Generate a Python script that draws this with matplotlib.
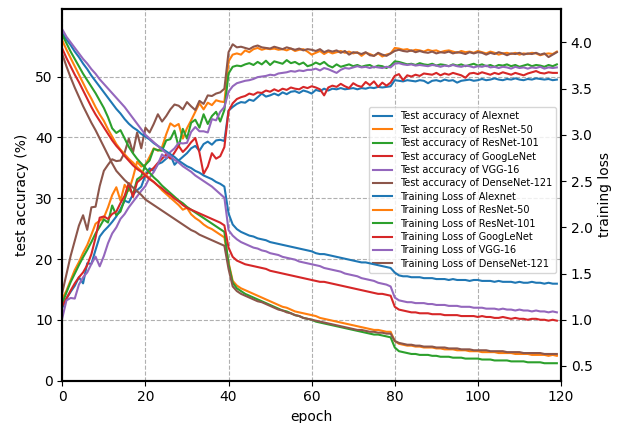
import matplotlib
matplotlib.use("Agg")
import matplotlib.pyplot as plt
import numpy as np

epochs = np.arange(120)
models = ["Alexnet", "ResNet-50", "ResNet-101", "GoogLeNet", "VGG-16", "DenseNet-121"]

# test accuracy (%) per epoch
acc_alexnet = [
    12.0, 13.5, 14.6, 15.6, 17.0, 16.0, 19.3, 19.2, 21.5, 23.7, 24.6, 25.3, 26.1, 27.0, 28.2, 29.6, 29.3, 30.6, 31.3, 31.9,
    33.8, 34.9, 34.5, 35.6, 35.9, 36.5, 37.1, 35.5, 36.2, 36.8, 37.4, 38.2, 38.6, 37.8, 38.9, 39.3, 38.8, 39.5, 39.6, 39.4,
    44.4, 45.0, 45.5, 45.8, 45.7, 46.2, 46.0, 46.6, 47.2, 46.7, 46.9, 47.2, 46.9, 47.4, 47.1, 47.5, 47.6, 47.3, 47.7, 47.5,
    47.2, 47.8, 47.6, 48.0, 47.7, 48.0, 47.9, 48.1, 47.9, 48.0, 48.1, 47.9, 48.1, 48.0, 48.2, 48.1, 48.3, 48.2, 48.3, 48.4,
    49.4, 49.3, 49.2, 49.4, 49.3, 49.2, 49.4, 49.3, 48.9, 49.3, 49.4, 49.2, 49.5, 49.3, 49.4, 49.0, 49.3, 49.4, 49.5, 49.3,
    49.4, 49.6, 49.4, 49.5, 49.7, 49.5, 49.4, 49.6, 49.5, 49.7, 49.5, 49.4, 49.6, 49.5, 49.7, 49.6, 49.5, 49.6, 49.4, 49.5]
acc_resnet50 = [
    13.5, 14.8, 16.5, 18.2, 19.5, 21.0, 22.3, 24.0, 25.8, 26.3, 26.8, 28.5, 30.5, 31.8, 29.6, 32.2, 31.2, 33.4, 36.0, 35.2,
    35.5, 36.8, 38.2, 37.8, 38.4, 40.5, 42.3, 41.8, 42.2, 39.8, 41.5, 42.8, 44.2, 45.6, 44.6, 45.7, 45.3, 46.1, 45.9, 45.8,
    52.5, 53.6, 53.8, 53.6, 54.3, 54.0, 54.5, 54.7, 54.4, 54.6, 54.5, 54.6, 54.4, 54.5, 54.3, 54.6, 54.2, 54.4, 54.5, 54.1,
    53.6, 53.9, 54.2, 53.7, 54.1, 53.8, 54.0, 54.2, 53.9, 54.1, 53.8, 54.0, 53.4, 53.9, 53.7, 53.4, 53.8, 53.3, 53.6, 53.8,
    54.7, 54.6, 54.4, 54.5, 54.2, 54.4, 54.3, 54.1, 54.4, 54.2, 54.3, 54.0, 54.2, 54.3, 54.1, 53.9, 54.2, 54.0, 54.1, 53.9,
    54.2, 54.0, 53.8, 54.1, 53.9, 53.6, 53.8, 53.9, 53.7, 53.9, 53.6, 53.8, 53.7, 53.9, 53.8, 53.5, 53.7, 53.8, 53.7, 54.1]
acc_resnet101 = [
    12.7, 14.5, 16.2, 17.6, 19.0, 20.3, 21.5, 22.8, 24.2, 25.3, 26.5, 26.0, 28.8, 27.2, 27.8, 29.8, 31.8, 30.6, 33.1, 33.6,
    35.5, 36.2, 38.1, 37.9, 37.8, 39.5, 39.7, 41.1, 38.4, 41.4, 39.8, 42.4, 42.9, 41.6, 43.8, 42.2, 43.5, 44.2, 42.6, 44.5,
    50.5, 51.6, 51.8, 51.7, 52.0, 52.2, 51.9, 52.4, 52.0, 52.6, 51.9, 52.5, 52.3, 52.1, 52.7, 52.2, 52.4, 52.0, 52.3, 51.7,
    51.9, 52.3, 52.0, 52.4, 51.8, 51.5, 52.0, 51.6, 51.8, 52.0, 51.7, 51.9, 51.6, 51.8, 51.9, 51.5, 51.8, 51.7, 51.4, 51.8,
    52.5, 52.4, 52.2, 52.0, 52.1, 51.9, 52.2, 52.0, 51.9, 52.1, 51.8, 52.0, 51.9, 51.7, 52.0, 51.8, 52.0, 51.7, 51.9, 52.1,
    51.8, 52.0, 51.7, 51.9, 51.6, 51.9, 51.8, 52.0, 51.7, 51.9, 51.6, 51.8, 52.0, 51.7, 51.9, 51.8, 51.6, 51.9, 51.7, 52.0]
acc_googlenet = [
    12.3, 13.5, 14.8, 16.0, 17.0, 17.8, 19.0, 20.8, 23.5, 26.8, 27.0, 26.6, 27.4, 27.8, 29.2, 30.4, 32.5, 30.2, 32.6, 33.2,
    33.8, 34.4, 35.0, 35.8, 36.5, 37.2, 36.5, 37.5, 38.6, 37.6, 38.3, 39.2, 39.9, 37.5, 34.0, 35.2, 37.4, 36.5, 36.9, 38.4,
    44.3, 45.6, 46.3, 46.6, 46.8, 47.2, 47.0, 47.4, 47.3, 47.7, 47.5, 47.9, 47.6, 48.0, 47.8, 48.2, 48.0, 47.9, 48.3, 48.1,
    48.4, 48.2, 47.9, 46.9, 48.2, 48.5, 48.3, 48.8, 48.4, 48.1, 48.9, 48.5, 48.3, 49.1, 48.6, 49.2, 48.3, 49.0, 48.5, 49.0,
    50.1, 50.4, 49.4, 50.2, 50.0, 50.3, 50.1, 50.5, 50.4, 50.3, 50.6, 50.2, 50.5, 50.3, 50.6, 50.4, 50.2, 49.8, 50.5, 50.6,
    50.4, 50.7, 50.5, 50.3, 50.6, 50.4, 50.7, 50.5, 50.3, 50.6, 50.4, 50.2, 50.5, 50.7, 50.9, 50.6, 50.5, 50.7, 50.6, 50.6]
acc_vgg16 = [
    10.3, 13.2, 13.6, 13.5, 15.8, 17.0, 17.8, 19.2, 20.4, 18.8, 20.5, 22.6, 24.2, 25.2, 26.6, 27.4, 28.5, 29.4, 30.3, 31.2,
    32.0, 33.4, 34.3, 35.6, 37.2, 36.6, 37.6, 38.2, 39.1, 39.0, 39.1, 40.9, 41.7, 41.0, 41.0, 40.8, 43.0, 42.8, 44.2, 45.0,
    47.5, 48.4, 48.9, 49.1, 49.3, 49.4, 49.6, 49.9, 50.0, 50.1, 50.3, 50.2, 50.5, 50.6, 50.7, 50.9, 50.8, 51.0, 50.9, 51.1,
    51.1, 51.3, 51.0, 51.4, 51.2, 50.9, 50.6, 51.1, 51.4, 51.3, 51.5, 51.7, 51.5, 51.6, 51.4, 51.6, 51.5, 51.4, 51.6, 51.5,
    52.1, 52.2, 52.0, 51.9, 52.0, 51.8, 51.9, 51.8, 51.7, 51.9, 51.8, 51.6, 51.8, 51.7, 51.9, 51.7, 51.6, 51.8, 51.7, 51.5,
    51.7, 51.6, 51.8, 51.5, 51.6, 51.4, 51.6, 51.5, 51.3, 51.6, 51.4, 51.5, 51.3, 51.5, 51.4, 51.6, 51.3, 51.5, 51.4, 51.5]
acc_densenet121 = [
    14.5, 17.5, 20.5, 23.0, 25.5, 27.2, 24.8, 28.5, 28.6, 32.0, 34.5, 35.5, 36.4, 36.1, 36.2, 37.5, 39.8, 37.5, 40.8, 38.2,
    41.6, 40.8, 42.2, 43.8, 42.6, 43.5, 44.6, 45.4, 45.2, 44.6, 45.8, 45.1, 44.5, 46.0, 45.5, 46.9, 46.8, 47.2, 47.4, 48.0,
    54.0, 55.3, 54.8, 54.9, 54.7, 54.5, 54.9, 55.1, 54.8, 54.7, 54.6, 54.9, 54.7, 54.5, 54.8, 54.6, 54.4, 54.6, 54.3, 54.5,
    54.4, 54.2, 54.5, 54.0, 54.3, 54.1, 54.3, 53.9, 54.2, 53.6, 54.0, 53.9, 53.7, 54.0, 53.5, 53.4, 53.9, 53.6, 53.4, 53.8,
    54.2, 54.4, 54.2, 54.1, 54.3, 54.0, 54.2, 54.0, 53.9, 54.1, 53.8, 54.0, 53.9, 54.1, 53.8, 54.0, 53.9, 53.7, 54.0, 53.8,
    54.0, 53.9, 53.6, 53.9, 53.7, 54.0, 53.8, 53.5, 53.8, 53.7, 53.9, 53.6, 53.8, 53.7, 53.9, 53.6, 53.8, 53.2, 53.6, 54.0]

# training loss per epoch
loss_alexnet = [
    4.10, 4.03, 3.97, 3.90, 3.84, 3.77, 3.71, 3.64, 3.58, 3.52, 3.46, 3.40, 3.34, 3.28, 3.23, 3.17, 3.12, 3.08, 3.05, 3.01,
    2.98, 2.95, 2.91, 2.88, 2.85, 2.82, 2.79, 2.76, 2.72, 2.69, 2.66, 2.64, 2.61, 2.59, 2.56, 2.54, 2.52, 2.49, 2.47, 2.44,
    2.15, 2.03, 1.98, 1.95, 1.93, 1.91, 1.90, 1.88, 1.87, 1.86, 1.84, 1.83, 1.82, 1.81, 1.80, 1.79, 1.78, 1.77, 1.76, 1.75,
    1.74, 1.72, 1.71, 1.71, 1.70, 1.69, 1.68, 1.67, 1.66, 1.65, 1.64, 1.63, 1.62, 1.62, 1.61, 1.60, 1.59, 1.58, 1.57, 1.56,
    1.51, 1.48, 1.47, 1.47, 1.46, 1.46, 1.46, 1.45, 1.45, 1.45, 1.44, 1.44, 1.44, 1.43, 1.44, 1.43, 1.43, 1.43, 1.42, 1.43,
    1.43, 1.42, 1.42, 1.42, 1.41, 1.42, 1.41, 1.41, 1.41, 1.40, 1.41, 1.40, 1.40, 1.41, 1.40, 1.40, 1.39, 1.40, 1.39, 1.39]
loss_resnet50 = [
    4.02, 3.92, 3.83, 3.74, 3.65, 3.56, 3.47, 3.39, 3.30, 3.22, 3.15, 3.06, 2.98, 2.90, 2.84, 2.79, 2.74, 2.70, 2.65, 2.61,
    2.57, 2.53, 2.49, 2.45, 2.40, 2.36, 2.32, 2.28, 2.24, 2.19, 2.21, 2.14, 2.10, 2.07, 2.03, 2.00, 1.98, 1.95, 1.92, 1.89,
    1.62, 1.42, 1.37, 1.34, 1.32, 1.30, 1.28, 1.26, 1.24, 1.22, 1.20, 1.18, 1.16, 1.14, 1.13, 1.11, 1.09, 1.08, 1.07, 1.06,
    1.05, 1.04, 1.02, 1.01, 1.00, 0.99, 0.98, 0.97, 0.96, 0.95, 0.94, 0.93, 0.92, 0.91, 0.90, 0.89, 0.89, 0.88, 0.87, 0.87,
    0.77, 0.74, 0.73, 0.72, 0.72, 0.71, 0.71, 0.70, 0.70, 0.70, 0.69, 0.69, 0.68, 0.68, 0.68, 0.67, 0.67, 0.67, 0.66, 0.66,
    0.66, 0.65, 0.65, 0.65, 0.65, 0.64, 0.64, 0.64, 0.64, 0.63, 0.63, 0.63, 0.63, 0.62, 0.62, 0.62, 0.62, 0.61, 0.62, 0.61]
loss_resnet101 = [
    4.08, 3.99, 3.90, 3.82, 3.74, 3.66, 3.59, 3.52, 3.45, 3.37, 3.29, 3.19, 3.07, 3.02, 3.05, 2.96, 2.87, 2.80, 2.74, 2.69,
    2.64, 2.59, 2.54, 2.50, 2.45, 2.41, 2.37, 2.33, 2.29, 2.26, 2.22, 2.19, 2.16, 2.13, 2.10, 2.07, 2.04, 2.01, 1.98, 1.95,
    1.60, 1.40, 1.34, 1.31, 1.28, 1.26, 1.24, 1.22, 1.20, 1.18, 1.16, 1.14, 1.12, 1.10, 1.09, 1.07, 1.05, 1.04, 1.02, 1.01,
    1.00, 0.98, 0.97, 0.96, 0.95, 0.94, 0.93, 0.92, 0.91, 0.90, 0.89, 0.88, 0.87, 0.86, 0.85, 0.84, 0.84, 0.83, 0.82, 0.81,
    0.70, 0.66, 0.65, 0.64, 0.63, 0.63, 0.62, 0.62, 0.62, 0.61, 0.61, 0.60, 0.60, 0.60, 0.59, 0.59, 0.59, 0.58, 0.58, 0.58,
    0.58, 0.57, 0.57, 0.57, 0.56, 0.56, 0.56, 0.56, 0.55, 0.55, 0.55, 0.55, 0.54, 0.54, 0.54, 0.54, 0.53, 0.53, 0.53, 0.53]
loss_googlenet = [
    3.93, 3.83, 3.74, 3.65, 3.57, 3.48, 3.39, 3.30, 3.22, 3.15, 3.08, 3.01, 2.94, 2.88, 2.83, 2.77, 2.72, 2.67, 2.63, 2.60,
    2.56, 2.52, 2.49, 2.45, 2.42, 2.38, 2.35, 2.31, 2.28, 2.24, 2.21, 2.19, 2.17, 2.15, 2.13, 2.11, 2.09, 2.07, 2.05, 2.02,
    1.78, 1.68, 1.64, 1.62, 1.60, 1.59, 1.58, 1.57, 1.56, 1.55, 1.53, 1.52, 1.51, 1.50, 1.49, 1.48, 1.47, 1.46, 1.45, 1.44,
    1.43, 1.42, 1.41, 1.41, 1.40, 1.39, 1.38, 1.37, 1.36, 1.35, 1.34, 1.33, 1.32, 1.31, 1.30, 1.29, 1.28, 1.28, 1.27, 1.26,
    1.14, 1.11, 1.10, 1.09, 1.08, 1.08, 1.07, 1.07, 1.07, 1.06, 1.06, 1.06, 1.05, 1.05, 1.05, 1.05, 1.04, 1.04, 1.04, 1.04,
    1.03, 1.04, 1.03, 1.03, 1.02, 1.02, 1.03, 1.02, 1.01, 1.02, 1.01, 1.01, 1.00, 1.01, 1.01, 1.00, 1.00, 0.99, 1.00, 0.99]
loss_vgg16 = [
    4.14, 4.06, 4.00, 3.94, 3.88, 3.82, 3.77, 3.71, 3.66, 3.60, 3.55, 3.50, 3.45, 3.40, 3.35, 3.30, 3.24, 3.18, 3.12, 3.06,
    3.00, 2.96, 2.92, 2.88, 2.84, 2.80, 2.77, 2.73, 2.70, 2.66, 2.63, 2.60, 2.56, 2.53, 2.50, 2.47, 2.44, 2.40, 2.36, 2.32,
    1.97, 1.91, 1.87, 1.84, 1.82, 1.80, 1.78, 1.77, 1.75, 1.74, 1.72, 1.71, 1.70, 1.68, 1.67, 1.66, 1.65, 1.63, 1.62, 1.61,
    1.60, 1.59, 1.58, 1.56, 1.55, 1.54, 1.53, 1.52, 1.50, 1.49, 1.48, 1.47, 1.45, 1.44, 1.43, 1.42, 1.40, 1.39, 1.38, 1.36,
    1.24, 1.21, 1.20, 1.19, 1.19, 1.18, 1.18, 1.18, 1.17, 1.17, 1.16, 1.16, 1.16, 1.15, 1.15, 1.15, 1.14, 1.14, 1.14, 1.13,
    1.13, 1.13, 1.12, 1.12, 1.12, 1.11, 1.12, 1.11, 1.11, 1.10, 1.11, 1.10, 1.10, 1.09, 1.10, 1.09, 1.09, 1.08, 1.09, 1.08]
loss_densenet121 = [
    3.87, 3.74, 3.62, 3.51, 3.41, 3.31, 3.22, 3.13, 3.05, 2.96, 2.87, 2.78, 2.69, 2.61, 2.56, 2.51, 2.47, 2.43, 2.39, 2.35,
    2.30, 2.27, 2.24, 2.21, 2.18, 2.15, 2.12, 2.09, 2.06, 2.03, 2.00, 1.97, 1.95, 1.92, 1.90, 1.88, 1.86, 1.84, 1.82, 1.80,
    1.55, 1.36, 1.31, 1.28, 1.26, 1.24, 1.22, 1.20, 1.19, 1.17, 1.15, 1.13, 1.11, 1.10, 1.08, 1.07, 1.05, 1.04, 1.02, 1.01,
    1.00, 0.99, 0.98, 0.97, 0.96, 0.95, 0.94, 0.93, 0.92, 0.91, 0.90, 0.89, 0.89, 0.88, 0.87, 0.87, 0.86, 0.86, 0.85, 0.85,
    0.77, 0.75, 0.74, 0.73, 0.73, 0.72, 0.72, 0.71, 0.71, 0.71, 0.70, 0.70, 0.70, 0.69, 0.69, 0.69, 0.68, 0.68, 0.68, 0.67,
    0.67, 0.67, 0.67, 0.66, 0.66, 0.66, 0.66, 0.65, 0.65, 0.65, 0.65, 0.64, 0.64, 0.64, 0.64, 0.64, 0.63, 0.63, 0.63, 0.63]

accs = [acc_alexnet, acc_resnet50, acc_resnet101, acc_googlenet, acc_vgg16, acc_densenet121]
losses = [loss_alexnet, loss_resnet50, loss_resnet101, loss_googlenet, loss_vgg16, loss_densenet121]

fig = plt.figure(figsize=(6.23, 4.23), dpi=100)
ax = fig.add_axes([0.1, 0.1, 0.8005, 0.8787])
ax2 = ax.twinx()

lines = []
for i, (name, a) in enumerate(zip(models, accs)):
    l, = ax.plot(epochs, a, color='C%d' % i, label='Test accuracy of ' + name)
    lines.append(l)
for i, (name, lo) in enumerate(zip(models, losses)):
    l, = ax2.plot(epochs, lo, color='C%d' % i, label='Training Loss of ' + name)
    lines.append(l)

ax.set_xlim(0, 120)
ax.set_ylim(0, 61.1)
ax.set_yticks([0, 10, 20, 30, 40, 50])
ax2.set_ylim(0.341, 4.36)
ax.set_xlabel('epoch')
ax.set_ylabel('test accuracy (%)')
ax2.set_ylabel('training loss')
ax.grid(linestyle='--')
for a in (ax, ax2):
    for s in a.spines.values():
        s.set_linewidth(1.5)

ax.legend(lines, [l.get_label() for l in lines], loc='center right',
          bbox_to_anchor=(1.0, 0.513), fontsize=7, labelspacing=0.35)

plt.savefig('out.png', dpi=100)
